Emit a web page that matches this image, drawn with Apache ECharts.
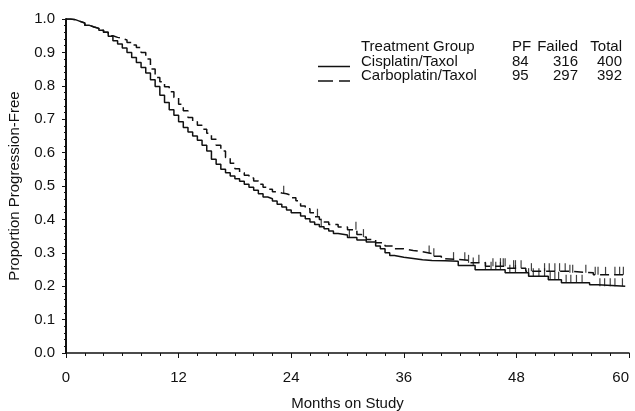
<!DOCTYPE html>
<html>
<head>
<meta charset="utf-8">
<title>Progression-free survival by treatment group</title>
<script src="https://cdn.jsdelivr.net/npm/echarts@6/dist/echarts.min.js"></script>
<style>
    html, body { margin: 0; padding: 0; background: #fff; }
    #chart1 { width: 635px; height: 411px; }
</style>
</head>
<body>
<div id="chart1"></div>
<script>
// [month, proportion progression-free]
var cisplatinCurve = [
    [0, 1.0], [0.5, 0.998], [1, 0.993], [1.5, 0.988], [2, 0.981], [2.5, 0.976], [3, 0.972], [3.5, 0.966],
    [4, 0.960], [4.5, 0.948], [5, 0.935], [5.5, 0.925], [6, 0.913], [6.5, 0.900], [7, 0.885], [7.5, 0.870],
    [8, 0.855], [8.5, 0.838], [9, 0.818], [9.5, 0.798], [10, 0.772], [10.5, 0.750], [11, 0.728], [11.5, 0.712],
    [12, 0.692], [12.5, 0.675], [13, 0.662], [13.5, 0.650], [14, 0.637], [14.5, 0.622], [15, 0.605], [15.5, 0.580],
    [16, 0.565], [16.5, 0.550], [17, 0.540], [17.5, 0.530], [18, 0.522], [18.5, 0.514], [19, 0.505], [19.5, 0.496],
    [20, 0.487], [20.5, 0.477], [21, 0.467], [21.5, 0.462], [22, 0.455], [22.5, 0.445], [23, 0.437], [23.5, 0.428],
    [24, 0.420], [25, 0.410], [25.5, 0.402], [26, 0.392], [26.5, 0.385], [27, 0.378], [27.5, 0.372], [28, 0.365],
    [28.5, 0.358], [29, 0.353], [30, 0.346], [31, 0.338], [32, 0.332], [33, 0.320], [33.5, 0.312], [34, 0.300],
    [34.5, 0.292], [35, 0.287], [36, 0.283], [37, 0.279], [38, 0.277], [39, 0.276], [40.4, 0.275], [41.8, 0.262],
    [43.6, 0.249], [46.8, 0.240], [49.3, 0.230], [51.4, 0.219], [52.8, 0.210], [55.8, 0.204], [56.7, 0.200], [59.6, 0.200]
]
var carboplatinCurve = [
    [0, 1.0], [0.5, 0.998], [1, 0.993], [1.5, 0.988], [2, 0.981], [2.5, 0.976], [3, 0.972], [3.5, 0.966],
    [4, 0.960], [4.5, 0.950], [5, 0.945], [5.5, 0.942], [6, 0.937], [6.5, 0.930], [7, 0.922], [7.5, 0.915],
    [8, 0.900], [8.5, 0.880], [9, 0.850], [9.5, 0.825], [10, 0.812], [10.5, 0.797], [11, 0.782], [11.5, 0.765],
    [12, 0.745], [12.5, 0.725], [13, 0.705], [13.5, 0.692], [14, 0.682], [14.5, 0.670], [15, 0.658], [15.5, 0.640],
    [16, 0.622], [16.5, 0.605], [17, 0.585], [17.5, 0.568], [18, 0.552], [18.5, 0.540], [19, 0.532], [19.5, 0.524],
    [20, 0.515], [20.5, 0.505], [21, 0.496], [21.5, 0.490], [22, 0.483], [22.5, 0.479], [23, 0.477], [23.5, 0.472],
    [24, 0.465], [24.5, 0.456], [25, 0.440], [25.5, 0.432], [26, 0.420], [26.5, 0.408], [27, 0.400], [27.5, 0.392],
    [28, 0.385], [29, 0.377], [30, 0.369], [31, 0.355], [31.5, 0.347], [32, 0.340], [33, 0.330], [34, 0.320],
    [35, 0.312], [36, 0.307], [37, 0.303], [38, 0.298], [39, 0.290], [40, 0.282], [40.4, 0.278], [42.9, 0.270],
    [44.7, 0.260], [46.9, 0.254], [49.0, 0.245], [53.5, 0.240], [56.2, 0.234], [59.6, 0.234]
]
// censoring times (months)
var cisplatinCensored = [27.2, 30.2, 43.4, 44.7, 45.3, 45.8, 46.3, 47.3, 47.9, 49.3, 49.8, 50.4, 51.0, 51.6,
    52.1, 52.5, 53.3, 53.8, 54.4, 55.0, 56.9, 57.4, 58.0, 58.5, 59.3]
var carboplatinCensored = [23.2, 26.8, 30.9, 31.7, 38.7, 39.2, 41.3, 42.5, 42.9, 44.0, 45.5, 46.3, 46.6, 46.8,
    47.7, 47.9, 48.5, 49.6, 51.0, 51.5, 52.1, 52.6, 53.2, 53.7, 54.0, 55.4, 56.4, 56.7, 57.5, 58.5, 59.0, 59.4]

var legendHeader = ['Treatment Group', 'PF', 'Failed', 'Total']
var groupNames = ['Cisplatin/Taxol', 'Carboplatin/Taxol']
var progressionFree = [84, 95]
var failed = [316, 297]
var total = [400, 392]

var fontFamily = '"Liberation Sans", Arial, Helvetica, sans-serif'
var ink = '#111'

// value of the step curve at time t
function survivalAt(curve, t) {
    var v = curve[0][1]
    curve.forEach(function(p) {
        if (p[0] <= t) v = p[1]
    })
    return v
}

function censorPoints(curve, times) {
    return times.map(function(t) { return [t, survivalAt(curve, t)] })
}

var chart = echarts.init(document.getElementById('chart1'))

var graphic = []
var legendText = function(text, x, y, align) {
    return {
        type: 'text',
        x: x,
        y: y,
        style: { text: text, fill: ink, font: '15px ' + fontFamily, align: align, verticalAlign: 'middle' }
    }
}
graphic.push(legendText(legendHeader[0], 361, 47, 'left'))
graphic.push(legendText(legendHeader[1], 512, 47, 'left'))
graphic.push(legendText(legendHeader[2], 578, 47, 'right'))
graphic.push(legendText(legendHeader[3], 622, 47, 'right'))
groupNames.forEach(function(name, i) {
    var y = 61.5 + i * 14.5
    graphic.push(legendText(name, 361, y, 'left'))
    graphic.push(legendText(String(progressionFree[i]), 512, y, 'left'))
    graphic.push(legendText(String(failed[i]), 578, y, 'right'))
    graphic.push(legendText(String(total[i]), 622, y, 'right'))
    graphic.push({
        type: 'line',
        shape: { x1: 318, y1: y + 5, x2: 350, y2: y + 5 },
        style: { stroke: ink, lineWidth: 1.5, lineDash: i === 0 ? null : [15, 6] }
    })
})

var option = {
    animation: false,
    backgroundColor: '#fff',
    textStyle: { fontFamily: fontFamily },
    grid: {
        left: 66,
        right: 6,
        top: 19,
        bottom: 58,
        outerBoundsMode: 'none'
    },
    xAxis: {
        type: 'value',
        min: 0,
        max: 60,
        interval: 12,
        offset: 3,
        name: 'Months on Study',
        nameLocation: 'middle',
        nameGap: 40,
        nameTextStyle: { color: ink, fontSize: 15 },
        axisLine: { lineStyle: { color: ink, width: 1.5 } },
        axisTick: { length: 5, lineStyle: { color: ink } },
        minorTick: { show: true, splitNumber: 6, length: 3, lineStyle: { color: ink } },
        axisLabel: { color: ink, fontSize: 15, margin: 14, alignMaxLabel: 'right' },
        splitLine: { show: false }
    },
    yAxis: {
        type: 'value',
        min: 0,
        max: 1,
        interval: 0.1,
        offset: 4,
        name: 'Proportion Progression-Free',
        nameLocation: 'middle',
        nameGap: 40,
        nameTextStyle: { color: ink, fontSize: 15 },
        axisLine: { show: true, lineStyle: { color: ink, width: 2 } },
        axisTick: { show: true, length: 4, lineStyle: { color: ink } },
        minorTick: { show: true, splitNumber: 5, length: 2, lineStyle: { color: ink } },
        axisLabel: {
            color: ink,
            fontSize: 15,
            margin: 7,
            formatter: function(v) { return v.toFixed(1) }
        },
        splitLine: { show: false }
    },
    graphic: graphic,
    series: [
        {
            name: groupNames[0],
            type: 'line',
            step: 'end',
            showSymbol: false,
            data: cisplatinCurve,
            lineStyle: { color: ink, width: 1.5 }
        },
        {
            name: groupNames[1],
            type: 'line',
            step: 'end',
            showSymbol: false,
            data: carboplatinCurve,
            lineStyle: { color: ink, width: 1.5, type: [9, 5] }
        },
        {
            type: 'scatter',
            symbol: 'rect',
            symbolSize: [1.2, 8],
            symbolOffset: [0, -4],
            itemStyle: { color: ink },
            data: censorPoints(cisplatinCurve, cisplatinCensored)
        },
        {
            type: 'scatter',
            symbol: 'rect',
            symbolSize: [1.2, 8],
            symbolOffset: [0, -4],
            itemStyle: { color: ink },
            data: censorPoints(carboplatinCurve, carboplatinCensored)
        }
    ]
}
chart.setOption(option)
</script>
</body>
</html>
